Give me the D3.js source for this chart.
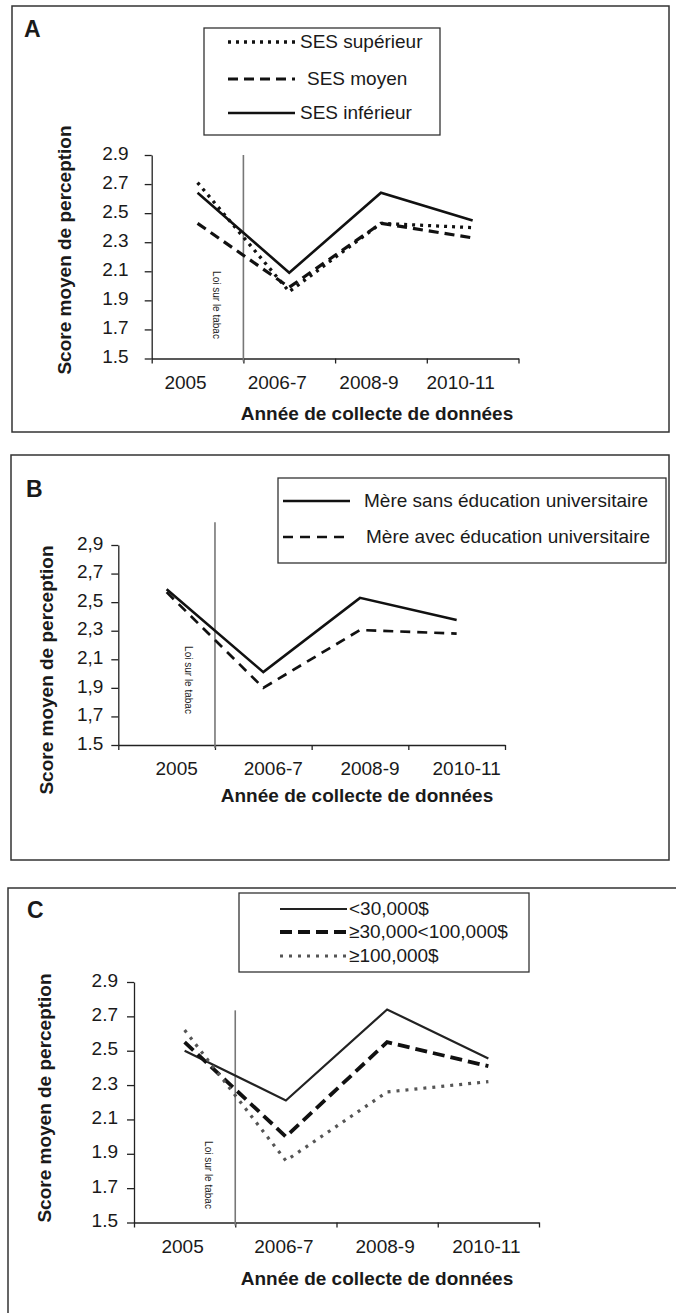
<!DOCTYPE html>
<html>
<head>
<meta charset="utf-8">
<script src="https://cdn.jsdelivr.net/npm/d3@7"></script>
<style>
    body { margin: 0; background: #fff; }
    text { font-family: "Liberation Sans", Arial, sans-serif; fill: #1a1a1a; }
</style>
</head>
<body>
<svg id="chart" width="676" height="1313"></svg>
<script>
// Categories and tick labels
const years = ["2005", "2006-7", "2008-9", "2010-11"];
const yTicks = [1.5, 1.7, 1.9, 2.1, 2.3, 2.5, 2.7, 2.9];
const yLabelsDot = ["1.5", "1.7", "1.9", "2.1", "2.3", "2.5", "2.7", "2.9"];
const yLabelsComma = ["1.5", "1,7", "1,9", "2,1", "2,3", "2,5", "2,7", "2,9"];

// A - SES
const sesSuperieur = [2.71, 1.96, 2.43, 2.40];
const sesMoyen = [2.43, 1.99, 2.43, 2.33];
const sesInferieur = [2.64, 2.09, 2.64, 2.45];

// B - mother's education
const mereSansEdu = [2.59, 2.01, 2.53, 2.375];
const mereAvecEdu = [2.57, 1.90, 2.305, 2.28];

// C - household income
const revenuBas = [2.50, 2.21, 2.74, 2.455];
const revenuMoyen = [2.55, 2.00, 2.55, 2.41];
const revenuHaut = [2.62, 1.86, 2.26, 2.32];

const svg = d3.select("#chart");

const FONT = "19px";

const styles = {
    solid: { dash: null, width: 2.6, color: "#111" },
    dotA: { dash: "3,5", width: 3.3, color: "#111" },
    dashA: { dash: "10,6", width: 3.2, color: "#111" },
    dashB: { dash: "10,7", width: 2.7, color: "#111" },
    solidC: { dash: null, width: 2.2, color: "#222" },
    dashC: { dash: "12,6", width: 3.8, color: "#111" },
    dotC: { dash: "3,6", width: 3.2, color: "#555" }
};

const panels = [
    {
        letter: "A", frame: [12, 6, 657, 426], letterPos: [24, 37],
        x0: 151.7, x1: 518.5, yTop: 155, yBot: 358.5,
        tickLabels: yLabelsDot, tickGap: 16, labelDx: -12,
        xTitle: [377, 420], yTitle: [71, 250],
        lawTop: 2.9, lawText: [212.5, 305],
        legend: { box: [204, 28, 236, 107], sx: [228, 295] },
        series: [
            { name: "SES supérieur", values: sesSuperieur, style: styles.dotA, ly: 41, tx: 300 },
            { name: "SES moyen", values: sesMoyen, style: styles.dashA, ly: 78, tx: 307 },
            { name: "SES inférieur", values: sesInferieur, style: styles.solid, ly: 112, tx: 300 }
        ]
    },
    {
        letter: "B", frame: [11, 455, 658, 405], letterPos: [26, 497],
        x0: 118.3, x1: 505, yTop: 545, yBot: 745,
        tickLabels: yLabelsComma, tickGap: 8, labelDx: 10,
        xTitle: [357, 802], yTitle: [53, 670],
        lawTop: 3.06, lawText: [184.5, 680],
        legend: { box: [278, 478, 388, 85], sx: [283, 350] },
        series: [
            { name: "Mère sans éducation universitaire", values: mereSansEdu, style: styles.solid, ly: 500, tx: 364 },
            { name: "Mère avec éducation universitaire", values: mereAvecEdu, style: styles.dashB, ly: 536, tx: 366 }
        ]
    },
    {
        letter: "C", frame: [8, 888, 675, 440], letterPos: [27, 918],
        x0: 134, x1: 539, yTop: 982, yBot: 1222.5,
        tickLabels: yLabelsDot, tickGap: 9, labelDx: -2,
        xTitle: [377, 1285], yTitle: [51, 1098],
        lawTop: 2.735, lawText: [204.5, 1175],
        legend: { box: [239, 893, 290, 79], sx: [280, 347] },
        series: [
            { name: "<30,000$", values: revenuBas, style: styles.solidC, ly: 908, tx: 349 },
            { name: "≥30,000<100,000$", values: revenuMoyen, style: styles.dashC, ly: 931, tx: 349 },
            { name: "≥100,000$", values: revenuHaut, style: styles.dotC, ly: 955, tx: 349 }
        ]
    }
];

function applyStyle(sel, st) {
    sel.attr("fill", "none")
        .attr("stroke", st.color)
        .attr("stroke-width", st.width)
        .attr("stroke-dasharray", st.dash);
}

function drawPanel(p) {
    const g = svg.append("g");

    // Outer frame
    g.append("rect")
        .attr("x", p.frame[0]).attr("y", p.frame[1])
        .attr("width", p.frame[2]).attr("height", p.frame[3])
        .attr("fill", "none").attr("stroke", "#333").attr("stroke-width", 1.5);

    g.append("text")
        .attr("x", p.letterPos[0]).attr("y", p.letterPos[1])
        .style("font-size", "23px").style("font-weight", "bold")
        .text(p.letter);

    const xb = d3.scaleBand().domain(years).range([p.x0, p.x1]);
    const xl = d3.scaleLinear().domain([0, years.length]).range([p.x0, p.x1]);
    const y = d3.scaleLinear().domain([1.5, 2.9]).range([p.yBot, p.yTop]);

    // Y axis
    const gy = g.append("g")
        .attr("transform", `translate(${p.x0},0)`)
        .call(d3.axisLeft(y).tickValues(yTicks).tickSize(7).tickSizeOuter(0)
            .tickPadding(p.tickGap).tickFormat((d, i) => p.tickLabels[i]));
    gy.selectAll("text").style("font-size", FONT).attr("dy", "0.22em");

    // X axis with ticks between categories
    g.append("g")
        .attr("transform", `translate(0,${p.yBot})`)
        .call(d3.axisBottom(xl).tickValues(d3.range(years.length + 1)).tickSize(5).tickSizeOuter(0).tickFormat(""));

    const gx = g.append("g")
        .attr("transform", `translate(0,${p.yBot})`)
        .call(d3.axisBottom(xb).tickSize(0).tickPadding(17));
    gx.select(".domain").remove();
    gx.selectAll("text").style("font-size", FONT).attr("dx", p.labelDx);

    g.selectAll(".domain, .tick line").attr("stroke", "#222").attr("stroke-width", 1.3);

    // Axis titles
    g.append("text")
        .attr("x", p.xTitle[0]).attr("y", p.xTitle[1])
        .attr("text-anchor", "middle")
        .style("font-size", FONT).style("font-weight", "bold")
        .text("Année de collecte de données");

    g.append("text")
        .attr("transform", `translate(${p.yTitle[0]},${p.yTitle[1]}) rotate(-90)`)
        .attr("text-anchor", "middle")
        .style("font-size", FONT).style("font-weight", "bold")
        .text("Score moyen de perception");

    // Tobacco law marker
    const lawX = xl(1);
    g.append("line")
        .attr("x1", lawX).attr("x2", lawX)
        .attr("y1", y(p.lawTop)).attr("y2", p.yBot + 3)
        .attr("stroke", "#777").attr("stroke-width", 1.6);

    g.append("text")
        .attr("transform", `translate(${p.lawText[0]},${p.lawText[1]}) rotate(90)`)
        .attr("text-anchor", "middle")
        .style("font-size", "10px")
        .text("Loi sur le tabac");

    // Series lines
    const line = d3.line()
        .x((d, i) => xb(years[i]) + xb.bandwidth() / 2)
        .y(d => y(d));

    p.series.forEach(s => {
        g.append("path")
            .datum(s.values)
            .attr("d", line)
            .call(applyStyle, s.style);
    });

    // Legend
    const lg = p.legend;
    g.append("rect")
        .attr("x", lg.box[0]).attr("y", lg.box[1])
        .attr("width", lg.box[2]).attr("height", lg.box[3])
        .attr("fill", "#fff").attr("stroke", "#333").attr("stroke-width", 1.3);

    p.series.forEach(s => {
        g.append("line")
            .attr("x1", lg.sx[0]).attr("x2", lg.sx[1])
            .attr("y1", s.ly + 1).attr("y2", s.ly + 1)
            .call(applyStyle, s.style);
        g.append("text")
            .attr("x", s.tx).attr("y", s.ly)
            .attr("dy", "0.35em")
            .style("font-size", FONT)
            .text(s.name);
    });
}

panels.forEach(drawPanel);
</script>
</body>
</html>
